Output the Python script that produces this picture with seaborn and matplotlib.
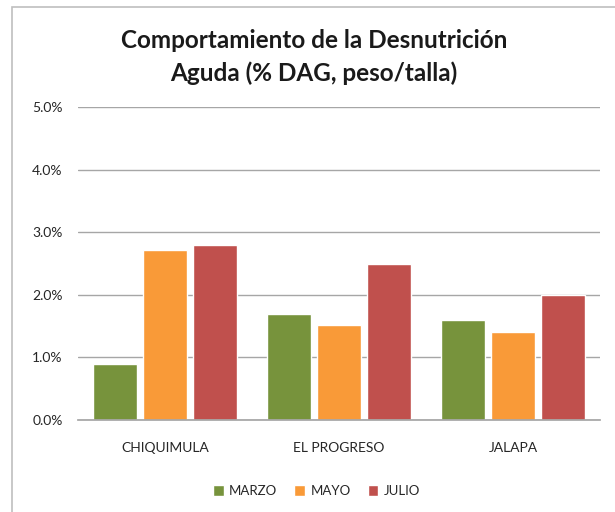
import matplotlib
matplotlib.use("Agg")
import matplotlib.pyplot as plt
import seaborn as sns
import pandas as pd
from matplotlib.patches import Rectangle
from matplotlib.ticker import FuncFormatter

categories = ["CHIQUIMULA", "EL PROGRESO", "JALAPA"]
series = ["MARZO", "MAYO", "JULIO"]
marzo = [0.9, 1.7, 1.6]
mayo = [2.72, 1.52, 1.4]
julio = [2.8, 2.5, 2.0]
colors = ["#77933C", "#F99A38", "#C0504D"]

rows = []
for s, vals in zip(series, [marzo, mayo, julio]):
    for c, v in zip(categories, vals):
        rows.append({"cat": c, "serie": s, "val": v})
df = pd.DataFrame(rows)

sns.set_theme(style="white")
plt.rcParams["font.family"] = ["Lato", "DejaVu Sans"]

fig = plt.figure(figsize=(6.15, 5.12), dpi=100)
ax = fig.add_axes([78/615, 1-420/512, (600-78)/615, (420-107)/512])

sns.barplot(data=df, x="cat", y="val", hue="serie", palette=colors,
            order=categories, hue_order=series, width=0.86, gap=0.12,
            saturation=1, ax=ax, errorbar=None)

ax.set_ylim(0, 5)
ax.set_yticks([0, 1, 2, 3, 4, 5])
ax.yaxis.set_major_formatter(FuncFormatter(lambda v, p: f"{v:.1f}%"))
ax.yaxis.grid(True, color="#A6A6A6", linewidth=1)
ax.set_axisbelow(True)
for sp in ["top", "right", "left"]:
    ax.spines[sp].set_visible(False)
ax.spines["bottom"].set_color("#A6A6A6")
ax.set_xlabel("")
ax.set_ylabel("")
ax.tick_params(axis="both", labelsize=10, colors="#262626", length=0)
ax.tick_params(axis="x", pad=16)
ax.tick_params(axis="y", pad=11)

leg = ax.legend(loc="upper center", bbox_to_anchor=(0.457, -0.17), ncol=3,
                frameon=False, fontsize=9.5, handlelength=0.8, handleheight=0.8,
                columnspacing=1.3, handletextpad=0.4)

fig.text(314/615, 1-40/512, "Comportamiento de la Desnutrición", ha="center", va="center",
         fontsize=17.5, fontweight="bold", color="#1a1a1a")
fig.text(314/615, 1-73/512, "Aguda (% DAG, peso/talla)", ha="center", va="center",
         fontsize=17.5, fontweight="bold", color="#1a1a1a")

fig.patches.append(Rectangle((12/615, -0.05), 1.0, 1-7/512+0.05, transform=fig.transFigure,
                             fill=False, edgecolor="#BFBFBF", linewidth=1.2))

fig.savefig("out.png", dpi=100, facecolor="white")
